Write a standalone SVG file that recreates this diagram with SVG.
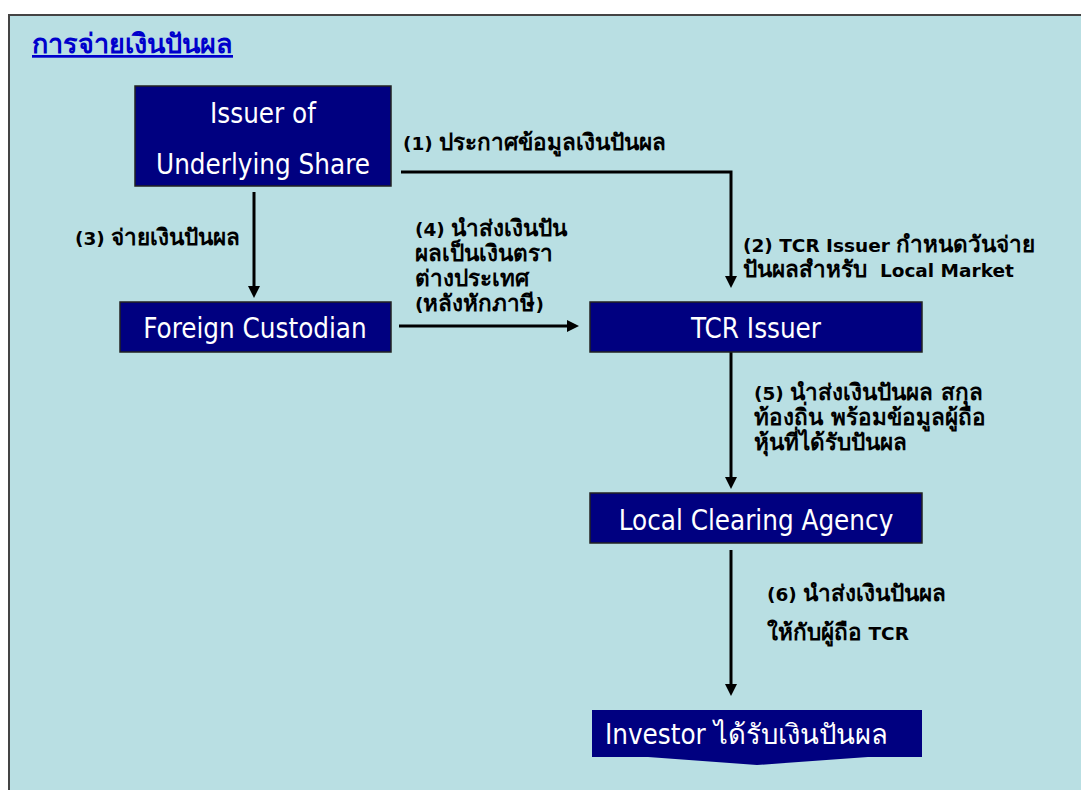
<svg xmlns="http://www.w3.org/2000/svg" width="1081" height="790" viewBox="0 0 1081 790">
<defs>
<style>
.box{fill:#000080;stroke:#222;stroke-width:1.5}
.bt{fill:#fff;font-family:"DejaVu Sans Condensed","DejaVu Sans",sans-serif;font-stretch:condensed;font-size:27.5px;text-anchor:middle}
.lb{fill:#000;font-family:"DejaVu Sans","Noto Sans",sans-serif;font-weight:bold;font-size:18.5px}
.th{font-size:22.5px}
.ln{stroke:#000;stroke-width:3;fill:none}
</style>
</defs>
<rect x="0" y="0" width="1081" height="790" fill="#fff"/>
<rect x="9" y="15" width="1080" height="790" fill="#B9DFE3" stroke="#444" stroke-width="2"/>
<text x="32" y="53" font-family="'DejaVu Serif','Liberation Serif',serif" font-size="27" font-weight="bold" fill="#0000CC" text-decoration="underline">การจ่ายเงินปันผล</text>

<g id="connectors">
<polyline class="ln" points="401,172 731,172 731,276"/>
<path d="M725,276 L737,276 L731,288 Z"/>
<line class="ln" x1="254" y1="192" x2="254" y2="286"/>
<path d="M248,286 L260,286 L254,298 Z"/>
<line class="ln" x1="399" y1="326" x2="567" y2="326"/>
<path d="M567,320 L567,332 L579,326 Z"/>
<line class="ln" x1="731" y1="352" x2="731" y2="477"/>
<path d="M725,477 L737,477 L731,489 Z"/>
<line class="ln" x1="731" y1="550" x2="731" y2="684"/>
<path d="M725,684 L737,684 L731,696 Z"/>
<text class="lb" x="403" y="150">(1) <tspan class="th">ประกาศข้อมูลเงินปันผล</tspan></text>
<text class="lb" x="743" y="252">(2) TCR Issuer <tspan class="th">กำหนดวันจ่าย</tspan></text>
<text class="lb" x="743" y="277" xml:space="preserve"><tspan class="th">ปันผลสำหรับ</tspan>  Local Market</text>
<text class="lb" x="75" y="245">(3) <tspan class="th">จ่ายเงินปันผล</tspan></text>
<text class="lb" x="415" y="236">(4) <tspan class="th">นำส่งเงินปัน</tspan></text>
<text class="lb" x="415" y="261"><tspan class="th">ผลเป็นเงินตรา</tspan></text>
<text class="lb" x="415" y="286"><tspan class="th">ต่างประเทศ</tspan></text>
<text class="lb" x="415" y="311">(<tspan class="th">หลังหักภาษี</tspan>)</text>
<text class="lb" x="754" y="400">(5) <tspan class="th">นำส่งเงินปันผล สกุล</tspan></text>
<text class="lb" x="754" y="425"><tspan class="th">ท้องถิ่น พร้อมข้อมูลผู้ถือ</tspan></text>
<text class="lb" x="754" y="450"><tspan class="th">หุ้นที่ได้รับปันผล</tspan></text>
<text class="lb" x="767" y="601">(6) <tspan class="th">นำส่งเงินปันผล</tspan></text>
<text class="lb" x="767" y="640"><tspan class="th">ให้กับผู้ถือ</tspan> TCR</text>
</g>

<g id="issuer">
<rect class="box" x="135" y="86" width="256" height="100"/>
<text class="bt" x="263" y="123">Issuer of</text>
<text class="bt" x="263" y="174">Underlying Share</text>
</g>
<g id="foreign">
<rect class="box" x="120" y="302" width="271" height="50"/>
<text class="bt" x="255" y="338">Foreign Custodian</text>
</g>
<g id="tcr">
<rect class="box" x="590" y="302" width="332" height="50"/>
<text class="bt" x="756" y="338">TCR Issuer</text>
</g>
<g id="lca">
<rect class="box" x="590" y="493" width="332" height="50"/>
<text class="bt" x="756" y="530">Local Clearing Agency</text>
</g>
<g id="investor">
<path d="M592,710 L922,710 L922,757 L868,757 L757,765 L648,757 L592,757 Z" fill="#000080"/>
<text class="bt" x="605" y="744" style="text-anchor:start">Investor ได้รับเงินปันผล</text>
</g>
</svg>
